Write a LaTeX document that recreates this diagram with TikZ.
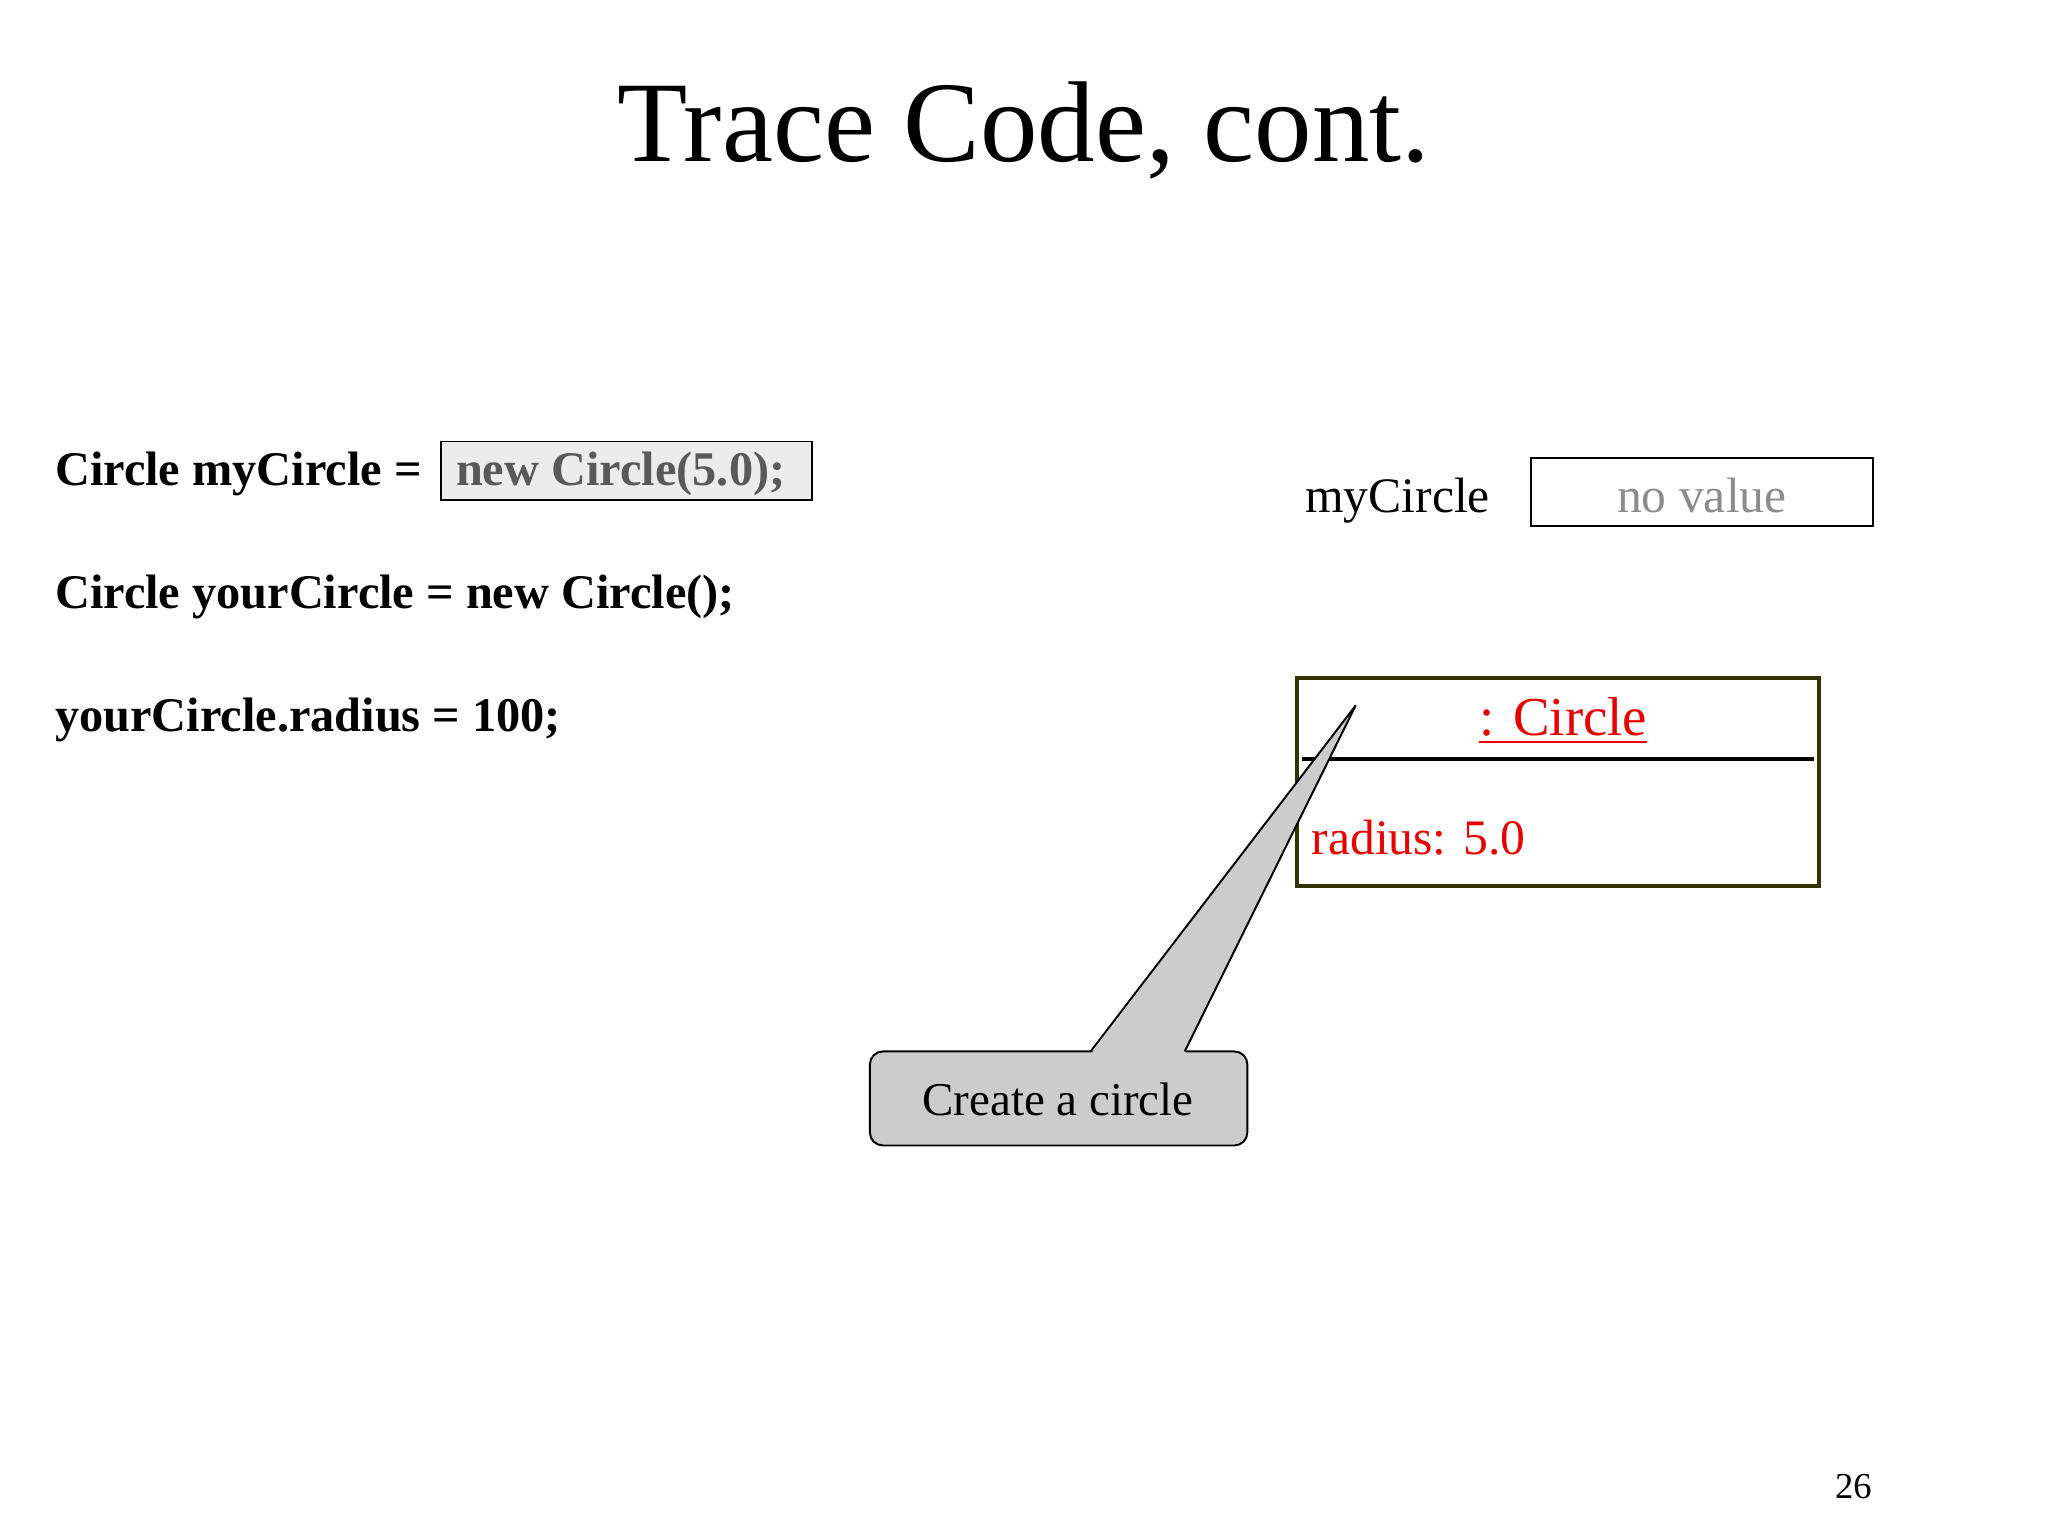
\documentclass[tikz,border=0pt]{standalone}
\usepackage{fontspec}
\setmainfont{Liberation Serif}
\definecolor{olive}{RGB}{51,51,0}
\definecolor{cred}{RGB}{230,0,0}
\begin{document}
\begin{tikzpicture}[x=1pt,y=-1pt,
  code/.style={anchor=base west,inner sep=0pt,font=\fontsize{37}{40}\selectfont\bfseries},
  lbl/.style={inner sep=0pt,font=\fontsize{38}{40}\selectfont}]
\useasboundingbox (0,0) rectangle (1568,1176);
\node[inner sep=0pt,font=\fontsize{88}{90}\selectfont] (title) at (784,100) {Trace Code, cont.};
% code
\node[code] (l1) at (42,372) {Circle myCircle =};
\draw[fill=gray!15,line width=1.5pt] (338,338) rectangle (622,383);
\node[code,text=black!65] (l1b) at (349,372) {new Circle(5.0);};
\node[code] (l2) at (42,466) {Circle yourCircle = new Circle();};
\node[code] (l3) at (42,560) {yourCircle.radius = 100;};
% variable
\node[lbl,anchor=base] (mc) at (1070,392) {myCircle};
\node[draw,line width=1.5pt,minimum width=262pt,minimum height=52pt,inner sep=0pt] (nv) at (1303,377) {};
\node[lbl,anchor=base,text=black!45] (nvt) at (1303,392) {no value};
% object
\node[draw=olive,line width=3pt,minimum width=400pt,minimum height=159pt,inner sep=0pt] (obj) at (1193,598.5) {};
\draw[line width=3pt] (997,581) -- (1389,581);
\node[lbl,anchor=base,text=cred,font=\fontsize{42}{44}\selectfont] (cls) at (1197,563) {: Circle};
\draw[cred,line width=2pt] (cls.west |- 0,568) -- (cls.east |- 0,568);
\node[lbl,anchor=base west,text=cred] (rad) at (1004,654) {radius: 5.0};
% callout
\node[draw,fill=black!20,line width=1.5pt,rounded corners=10pt,minimum width=289pt,minimum height=72pt,inner sep=0pt] (call) at (810.5,841) {};
\coordinate (tip) at (1038,540);
\fill[black!20] (835,807) -- (tip) -- (907,807) -- cycle;
\draw[line width=1.5pt,line join=miter] (835,805) -- (tip) -- (907,805);
\node[lbl,font=\fontsize{36}{40}\selectfont] (ct) at (810,842) {Create a circle};
\node[inner sep=0pt,font=\fontsize{28}{30}\selectfont] (pg) at (1419,1138) {26};
\end{tikzpicture}
\end{document}
